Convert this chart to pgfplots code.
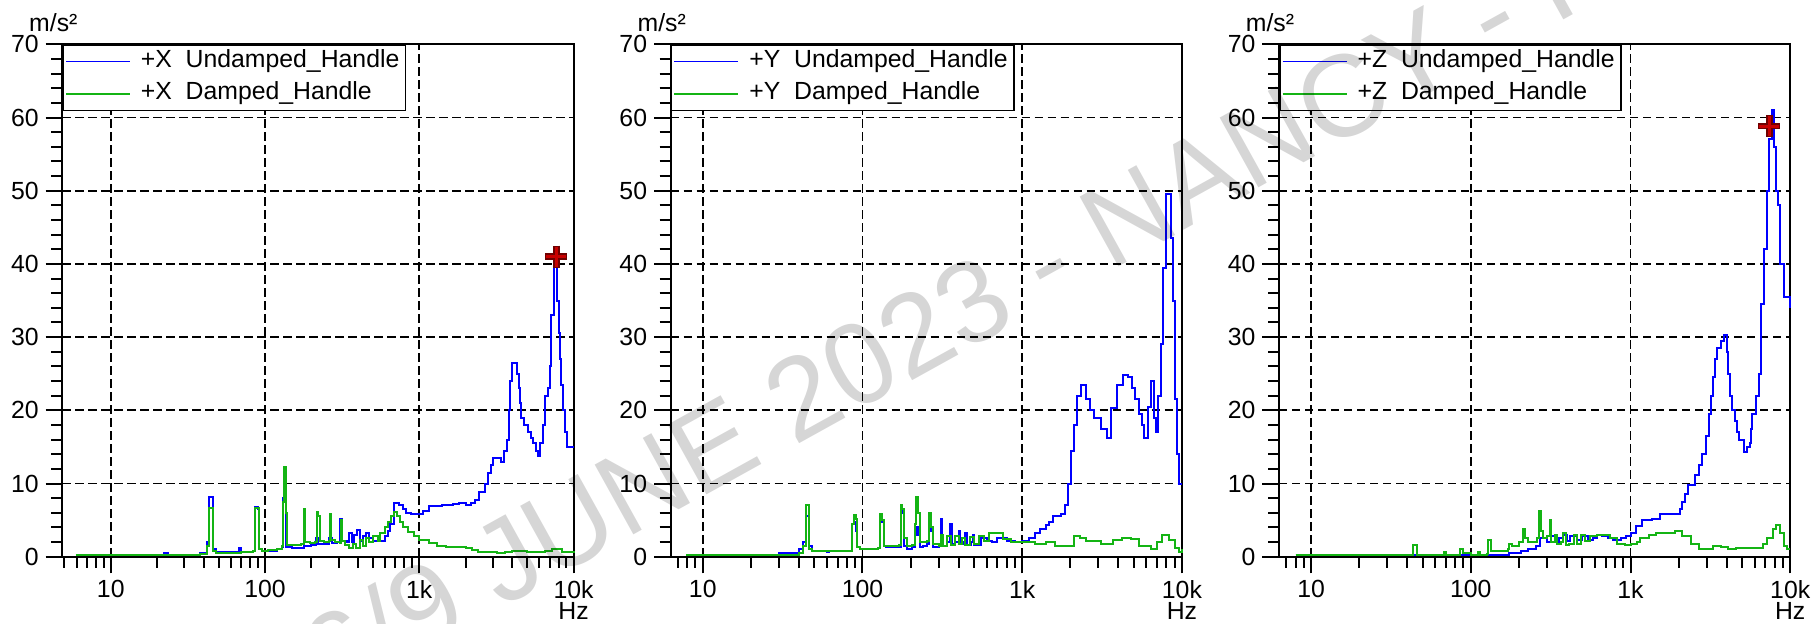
\documentclass[border=0pt]{standalone}
\usepackage{fontspec}
\setmainfont{Liberation Sans}
\usepackage{pgfplots}
\pgfplotsset{compat=1.18}
\definecolor{spBlue}{RGB}{0,0,255}
\definecolor{spGreen}{RGB}{20,180,20}
\definecolor{spMarkDark}{RGB}{110,0,0}
\definecolor{spMarkRed}{RGB}{200,0,0}
\newcommand{\lblfont}{\fontsize{12.4}{15}\selectfont}
\pgfplotsset{
  legend image code/.code={\draw[#1, line width=0.9pt] (0pt,0pt) -- (32pt,0pt);},
  every axis/.append style={
    scale only axis, width=255.6pt, height=256.2pt,
    xmax=10000, ymin=0, ymax=70,
    xtick={10,100,1000,10000}, xticklabels={10,100,1k,10k},
    minor xtick={5,6,7,8,9,20,30,40,50,60,70,80,90,200,300,400,500,600,700,800,900,2000,3000,4000,5000,6000,7000,8000,9000},
    ytick={0,10,20,30,40,50,60,70}, yticklabels={0,10,20,30,40,50,60,70},
    minor ytick={2,4,6,8,12,14,16,18,22,24,26,28,32,34,36,38,42,44,46,48,52,54,56,58,62,64,66,68},
    tick align=outside, xtick pos=left, ytick pos=left,
    major tick length=8.3pt, minor tick length=5.5pt,
    tick style={black, line width=1pt},
    axis line style={line width=1pt},
    grid=major, major grid style={black, line width=0.9pt, dash pattern=on 4.2pt off 2.3pt},
    ticklabel style={font=\lblfont},
    legend cell align=left,
    legend style={at={(0,1)}, anchor=north west, draw=black, line width=0.8pt,
      inner xsep=1pt, inner ysep=0pt, row sep=0pt, column sep=3pt, font=\lblfont, fill=white,
      nodes={inner sep=2pt, text height=9pt, text depth=3.3pt}},
  },
  every axis plot/.append style={line width=1pt, const plot},
}
\newcommand{\units}{%
  \node[font=\lblfont, inner sep=0pt] at (rel axis cs:0,1) [xshift=-4.5pt, yshift=11pt] {m/s²};
  \node[font=\lblfont, inner sep=0pt, anchor=north] at (rel axis cs:1,0) [yshift=-22.6pt] {Hz};
}
\begin{document}
\begin{tikzpicture}
\useasboundingbox (0,0) rectangle (909pt,311.5pt);

% ---- X direction
\begin{axis}[xmode=log, anchor=south west, at={(31.15pt,33.15pt)}, xmin=4.85, clip=false]
\addplot[spBlue] coordinates {
(5.95,0.3)(22,0.5)(23.5,0.3)(38,0.5)(42,2.0)(43.5,8.2)(46,1.0)(48,0.6)(68,1.2)(70,0.6)
(84,0.8)(85.5,6.8)(90,6.5)(91,1.0)(96,0.8)(120,1.0)(128,1.3)(131,8.0)(134,7.5)(137,1.3)
(150,1.2)(180,1.5)(200,1.6)(215,2.6)(222,1.8)(240,1.8)(260,2.6)(270,1.9)(295,2.0)(306,5.2)
(315,2.2)(340,2.0)(350,3.2)(365,2.0)(380,3.0)(395,3.6)(410,2.2)(430,2.8)(450,3.2)(470,2.5)
(500,2.2)(560,2.1)(600,2.8)(625,3.5)(650,4.5)(690,7.3)(740,7.0)(780,6.5)(820,6.0)(880,5.8)
(1050,6.3)(1150,6.9)(1400,7.0)(1650,7.2)(1800,7.3)(2000,7.0)(2150,7.4)(2300,7.8)(2450,8.8)
(2650,10)(2800,11.5)(2900,12.5)(3000,13.5)(3400,13.0)(3550,14.5)(3700,16)(3800,20)(3900,24)
(4000,26.5)(4150,26.5)(4300,25)(4400,23)(4500,21)(4600,19)(4800,18)(5100,17)(5300,16.2)
(5500,15.5)(5700,14.5)(5900,13.8)(6100,15.5)(6300,18)(6500,22)(6800,23)(7000,26)(7200,33)
(7450,40)(7700,40)(7850,35)(8000,30.5)(8150,27)(8300,23.5)(8600,20)(8800,17)(9100,15)(10000,15)};
\addlegendentry{+X\ \ Undamped\_Handle}
\addplot[spGreen] coordinates {
(5.95,0.3)(38,0.4)(42,1.5)(43.5,6.7)(46,0.8)(48,0.5)(70,0.7)(72,0.6)(84,0.8)(85.5,6.7)
(90,6.6)(91,1.0)(96,0.8)(105,0.9)(120,1.0)(128,1.5)(131,7.5)(133,12.3)(137,6)(139,1.6)
(150,1.6)(170,1.8)(178,6.5)(181,2.0)(195,1.9)(212,2.0)(216,6.1)(222,5.5)(226,2.2)(240,2.0)
(258,2.2)(262,5.9)(268,2.3)(285,2.0)(305,1.9)(309,5.0)(315,2.2)(330,1.6)(350,1.2)(370,1.8)
(390,1.2)(410,2.3)(430,1.5)(450,2.6)(470,2.0)(500,2.8)(540,2.2)(560,3.2)(600,4.0)(630,4.8)
(660,5.5)(690,6.1)(720,5.5)(750,4.8)(790,4.0)(850,3.4)(920,2.8)(1000,2.3)(1150,1.9)(1300,1.5)
(1500,1.3)(2000,1.2)(2200,0.9)(2400,0.6)(3200,0.5)(3600,0.7)(4000,0.8)(5000,0.7)(5600,0.6)
(6500,0.8)(7300,1.0)(7800,1.1)(8400,0.7)(10000,0.5)};
\addlegendentry{+X\ \ Damped\_Handle}
\addplot[forget plot, only marks, mark=+, mark size=5.5pt, mark options={spMarkDark, line width=3.2pt}] coordinates {(7740,41)};
\addplot[forget plot, only marks, mark=+, mark size=5pt, mark options={spMarkRed, line width=1.5pt}] coordinates {(7740,41)};
\units
\end{axis}

% ---- Y direction
\begin{axis}[xmode=log, anchor=south west, at={(335.35pt,33.15pt)}, xmin=6.3, clip=false]
\addplot[spBlue] coordinates {
(7.9,0.3)(30,0.5)(38,0.5)(40,1.0)(42.5,2.0)(44,5.5)(46.5,1.5)(48.5,0.8)(60,0.6)(62,0.8)
(82,0.8)(86,4.5)(88,4.8)(90.5,3.5)(92,1.3)(96,1.0)(104,1.0)(125,1.2)(128,5.3)(133,4.8)
(136,1.5)(140,1.3)(170,1.3)(174,6.5)(178,6.0)(181,1.5)(190,1.0)(205,1.3)(212,3.0)(216,4.0)
(222,3.0)(228,1.3)(240,1.5)(255,1.8)(262,5.2)(270,3.5)(275,1.3)(300,1.5)(308,5.2)(315,1.5)
(340,2.0)(355,4.5)(362,1.8)(380,2.0)(400,3.5)(410,1.8)(430,2.0)(440,3.2)(450,1.6)(480,2.0)
(490,3.0)(500,1.6)(550,2.5)(600,2.2)(650,2.0)(700,2.6)(800,2.1)(900,2.0)(1000,2.1)(1100,2.6)
(1200,3.2)(1300,3.8)(1400,4.3)(1480,4.8)(1570,5.5)(1750,5.9)(1850,7)(1930,10)(2030,14.5)
(2100,18)(2200,22)(2350,23.5)(2500,21.5)(2650,20)(2800,19)(3100,17.5)(3400,16.2)(3600,20.3)
(3900,23.5)(4300,24.8)(4600,24.5)(4850,23)(5100,21.5)(5350,19.5)(5600,18)(5800,16.2)(6100,20.5)
(6400,24)(6700,19)(6900,17)(7100,22)(7400,29)(7600,39.5)(7900,49.5)(8300,49.5)(8600,43.5)
(8800,35)(9100,21.5)(9300,14)(9600,10)(10000,10)};
\addlegendentry{+Y\ \ Undamped\_Handle}
\addplot[spGreen] coordinates {
(7.9,0.3)(30,0.3)(40,0.5)(42.5,1.5)(44,7.0)(46.5,1.0)(48.5,0.8)(82,0.8)(86,4.5)(88,5.7)
(90.5,5.2)(92,1.3)(96,1.0)(104,1.0)(125,1.2)(128,5.8)(133,5.0)(136,1.5)(140,1.5)(170,1.6)
(174,7.1)(178,6.5)(181,2.5)(190,1.5)(205,1.6)(212,4.5)(216,8.2)(222,6.0)(228,2.0)(240,2.0)
(255,2.2)(262,6.0)(270,4.0)(275,1.8)(300,1.5)(310,3.0)(320,1.5)(340,2.8)(360,1.6)(380,2.8)
(400,1.8)(420,2.6)(440,1.6)(470,2.7)(500,1.8)(540,2.8)(580,2.2)(620,3.3)(700,3.3)(760,2.4)
(850,2.0)(1000,2.0)(1200,1.8)(1400,2.0)(1600,1.5)(1900,1.5)(2100,2.8)(2300,2.5)(2500,2.2)
(3100,1.7)(3700,2.3)(4200,2.5)(4800,2.4)(5400,1.5)(6400,1.0)(7000,2.0)(7500,2.9)(8300,2.3)
(9100,1.2)(9600,0.7)(10000,1.0)};
\addlegendentry{+Y\ \ Damped\_Handle}
\units
\end{axis}

% ---- Z direction
\begin{axis}[xmode=log, anchor=south west, at={(639.5pt,33.15pt)}, xmin=6.3, clip=false]
\addplot[spBlue] coordinates {
(8,0.2)(140,0.2)(174,0.5)(205,0.8)(228,1.0)(257,1.5)(270,2.5)(300,2.0)(320,2.8)(340,2.0)
(358,2.5)(380,2.9)(400,2.2)(420,2.8)(460,2.3)(500,2.8)(540,2.3)(585,2.6)(620,3.0)(660,2.8)
(720,2.6)(780,2.3)(870,2.5)(940,2.8)(1000,3.2)(1090,4.2)(1180,5.0)(1360,5.2)(1520,5.8)
(2000,5.8)(2050,6.5)(2100,7.5)(2200,8.5)(2300,9.8)(2550,11.2)(2700,12.5)(2800,14)(2950,16.5)
(3100,19.5)(3200,22)(3300,24.5)(3400,27)(3500,28.5)(3700,29.5)(3850,30.3)(4000,28)(4100,25)
(4200,22)(4350,20)(4500,18.5)(4650,17)(4800,16)(5100,14.3)(5400,15.0)(5600,15.5)(5700,17.5)
(5800,19.5)(6100,22)(6400,25)(6600,34.5)(6900,42)(7200,50)(7400,57)(7700,61)(7900,56)
(8100,50)(8400,48)(8600,40)(9100,35.5)(9600,35.5)(10000,34)};
\addlegendentry{+Z\ \ Undamped\_Handle}
\addplot[spGreen] coordinates {
(8,0.2)(42,0.2)(43.5,1.6)(46,0.3)(66,0.3)(68,0.6)(70,0.3)(84,0.3)(86,1.0)(90,0.5)
(100,0.3)(111,0.6)(115,0.3)(126,0.4)(128,2.3)(133,0.8)(141,0.8)(170,1.0)(173,1.8)(180,1.4)
(200,2.0)(212,3.8)(220,2.5)(228,2.0)(258,2.5)(266,6.3)(275,3.5)(285,2.5)(300,2.8)(312,5.0)
(320,2.0)(335,3.0)(345,1.8)(365,2.0)(380,3.2)(395,1.6)(410,1.7)(440,3.0)(460,1.8)(490,3.0)
(520,2.2)(560,2.8)(620,3.0)(680,3.0)(740,2.5)(820,1.8)(920,1.6)(1000,1.7)(1100,2.0)(1150,2.5)
(1300,3.0)(1450,3.3)(1900,3.5)(2100,2.8)(2400,1.8)(2700,1.0)(3200,1.0)(3300,1.4)(3700,1.3)
(4100,1.0)(4600,1.2)(6300,1.2)(6800,1.8)(7200,2.5)(7800,3.8)(8200,4.3)(8600,3.3)(9200,1.5)
(9600,1.0)(10000,1.0)};
\addlegendentry{+Z\ \ Damped\_Handle}
\addplot[forget plot, only marks, mark=+, mark size=5.5pt, mark options={spMarkDark, line width=3.2pt}] coordinates {(7400,58.8)};
\addplot[forget plot, only marks, mark=+, mark size=5pt, mark options={spMarkRed, line width=1.5pt}] coordinates {(7400,58.8)};
\units
\end{axis}

% watermark
\node[rotate=29, font=\fontsize{58}{68}\selectfont, text=black, text opacity=0.16]
  at (552pt,198pt) {16/9 JUNE 2023 - NANCY - FRANCE};
\end{tikzpicture}
\end{document}
